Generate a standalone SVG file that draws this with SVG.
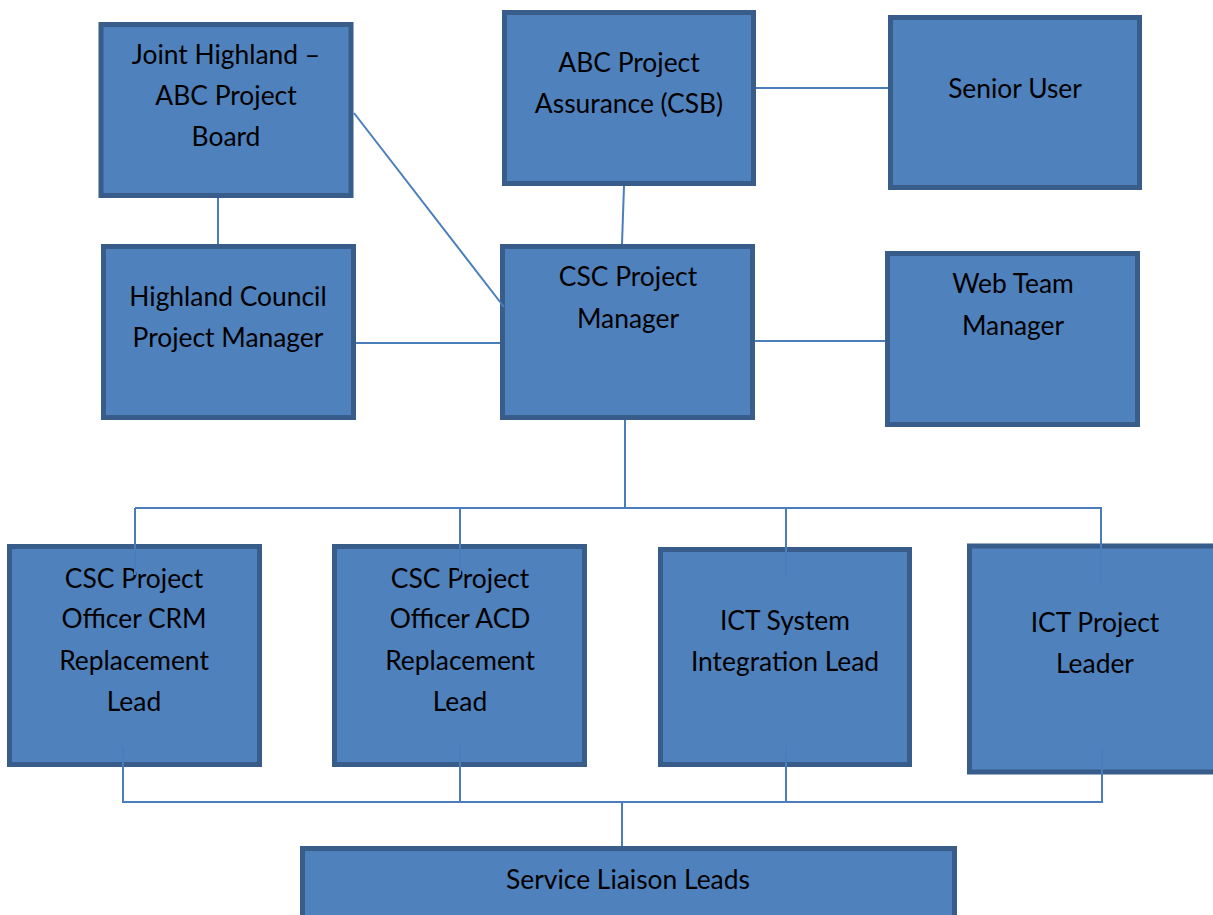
<svg xmlns="http://www.w3.org/2000/svg" width="1213" height="915" viewBox="0 0 1213 915">
  <style>
    .box { fill: #4F81BD; stroke: #385D8A; stroke-width: 5; }
    .lbl { font-family: Lato, "Open Sans", "Liberation Sans", sans-serif; font-size: 26.4px; fill: #000; text-anchor: middle; }
    .wire { stroke: #4A7EBB; stroke-width: 2; fill: none; }
  </style>
  <rect width="1213" height="915" fill="#fff"/>

  <g id="joint-board">
    <rect class="box" x="101" y="24.5" width="250" height="171"/>
    <text class="lbl" x="226" y="64">Joint Highland –</text>
    <text class="lbl" x="226" y="105">ABC Project</text>
    <text class="lbl" x="226" y="146">Board</text>
  </g>
  <g id="hc-project-manager">
    <rect class="box" x="103.5" y="246.5" width="250" height="171"/>
    <text class="lbl" x="228" y="306">Highland Council</text>
    <text class="lbl" x="228" y="347">Project Manager</text>
  </g>
  <g id="abc-assurance">
    <rect class="box" x="504.5" y="12.5" width="249" height="171"/>
    <text class="lbl" x="629" y="72">ABC Project</text>
    <text class="lbl" x="629" y="113">Assurance (CSB)</text>
  </g>
  <g id="senior-user">
    <rect class="box" x="890.5" y="17.5" width="249" height="170"/>
    <text class="lbl" x="1015" y="98">Senior User</text>
  </g>
  <g id="csc-project-manager">
    <rect class="box" x="502.5" y="246.5" width="250" height="171"/>
    <text class="lbl" x="628" y="286">CSC Project</text>
    <text class="lbl" x="628" y="328">Manager</text>
  </g>
  <g id="web-team-manager">
    <rect class="box" x="887.5" y="253.5" width="250" height="171"/>
    <text class="lbl" x="1013" y="293">Web Team</text>
    <text class="lbl" x="1013" y="335">Manager</text>
  </g>
  <g id="officer-crm">
    <rect class="box" x="9.5" y="546.5" width="250" height="218"/>
    <text class="lbl" x="134" y="588">CSC Project</text>
    <text class="lbl" x="134" y="628">Officer CRM</text>
    <text class="lbl" x="134" y="670">Replacement</text>
    <text class="lbl" x="134" y="711">Lead</text>
  </g>
  <g id="officer-acd">
    <rect class="box" x="334.5" y="546.5" width="250" height="218"/>
    <text class="lbl" x="460" y="588">CSC Project</text>
    <text class="lbl" x="460" y="628">Officer ACD</text>
    <text class="lbl" x="460" y="670">Replacement</text>
    <text class="lbl" x="460" y="711">Lead</text>
  </g>
  <g id="ict-integration">
    <rect class="box" x="660.5" y="549.5" width="249" height="215"/>
    <text class="lbl" x="785" y="630">ICT System</text>
    <text class="lbl" x="785" y="671">Integration Lead</text>
  </g>
  <g id="ict-leader">
    <rect class="box" x="969.5" y="546" width="250" height="226"/>
    <text class="lbl" x="1095" y="632">ICT Project</text>
    <text class="lbl" x="1095" y="673">Leader</text>
  </g>
  <g id="service-liaison">
    <rect class="box" x="302.5" y="848.5" width="652" height="70"/>
    <text class="lbl" x="628" y="889">Service Liaison Leads</text>
  </g>

  <g id="connectors">
    <line class="wire" x1="218" y1="198" x2="218" y2="244"/>
    <line class="wire" x1="354" y1="113" x2="504" y2="307"/>
    <line class="wire" x1="624" y1="186" x2="622" y2="244"/>
    <line class="wire" x1="756" y1="88" x2="888" y2="88"/>
    <line class="wire" x1="356" y1="343" x2="500" y2="343"/>
    <line class="wire" x1="755" y1="341" x2="885" y2="341"/>
    <line class="wire" x1="625" y1="420" x2="625" y2="508"/>
    <line class="wire" x1="135" y1="508" x2="1101" y2="508"/>
    <line class="wire" x1="135" y1="508" x2="135" y2="575"/>
    <line class="wire" x1="460" y1="508" x2="460" y2="575"/>
    <line class="wire" x1="786" y1="508" x2="786" y2="576"/>
    <line class="wire" x1="1101" y1="507" x2="1101" y2="584"/>
    <polyline class="wire" points="123,747 123,802 1102,802 1102,748"/>
    <line class="wire" x1="460" y1="745" x2="460" y2="802"/>
    <line class="wire" x1="786" y1="745" x2="786" y2="802"/>
    <line class="wire" x1="622" y1="802" x2="622" y2="846"/>
  </g>
</svg>
